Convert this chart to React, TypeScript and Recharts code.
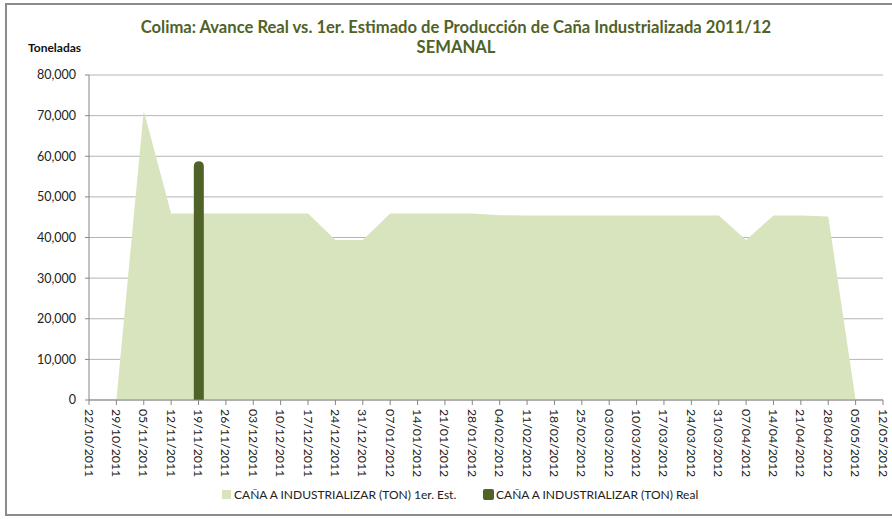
import { Area, Bar, CartesianGrid, ComposedChart, XAxis, YAxis } from "recharts";

const weeks = [
  "22/10/2011", "29/10/2011", "05/11/2011", "12/11/2011", "19/11/2011",
  "26/11/2011", "03/12/2011", "10/12/2011", "17/12/2011", "24/12/2011",
  "31/12/2011", "07/01/2012", "14/01/2012", "21/01/2012", "28/01/2012",
  "04/02/2012", "11/02/2012", "18/02/2012", "25/02/2012", "03/03/2012",
  "10/03/2012", "17/03/2012", "24/03/2012", "31/03/2012", "07/04/2012",
  "14/04/2012", "21/04/2012", "28/04/2012", "05/05/2012", "12/05/2012",
];

const estimated: (number | null)[] = [
  null, 0, 71200, 45900, 45900, 45900, 45900, 45900, 45900, 39400,
  39400, 45900, 45900, 45900, 45900, 45500, 45400, 45400, 45400, 45400,
  45400, 45400, 45400, 45400, 39400, 45400, 45400, 45200, 0, null,
];

const real: (number | null)[] = [
  null, null, null, null, 58800, null, null, null, null, null,
  null, null, null, null, null, null, null, null, null, null,
  null, null, null, null, null, null, null, null, null, null,
];

const yTicks = [0, 10000, 20000, 30000, 40000, 50000, 60000, 70000, 80000];

const EST = "#D7E4BD";
const REAL = "#4F6228";
const FONT = "Lato, 'DejaVu Sans', sans-serif";

const rows = weeks.map((w, i) => ({ i, week: w, est: estimated[i], real: real[i] }));

function DateTick({ x, y, payload }: any) {
  return (
    <text
      x={x}
      y={y}
      transform={`rotate(90, ${x}, ${y})`}
      textAnchor="start"
      dominantBaseline="central"
      fontSize={12.3}
      fontFamily={FONT}
      fill="#222"
    >
      {weeks[payload.value]}
    </text>
  );
}

const legendItem: React.CSSProperties = {
  position: "absolute",
  top: 487,
  display: "flex",
  alignItems: "center",
  fontSize: 12,
  color: "#222",
  whiteSpace: "nowrap",
};

export default function App() {
  return (
    <div style={{ position: "relative", width: 892, height: 519, fontFamily: FONT, background: "#fff" }}>
      <style>{`body{margin:0}`}</style>
      <div
        style={{
          position: "absolute",
          left: 5,
          top: 3,
          width: 892,
          height: 513,
          border: "2px solid #8c8c8c",
          boxSizing: "border-box",
        }}
      />
      <div
        style={{
          position: "absolute",
          left: 56,
          top: 17,
          width: 800,
          textAlign: "center",
          color: REAL,
          fontWeight: 700,
          fontSize: 16.6,
          lineHeight: "20px",
        }}
      >
        Colima: Avance Real vs. 1er. Estimado de Producción de Caña Industrializada 2011/12
        <br />
        SEMANAL
      </div>
      <div style={{ position: "absolute", left: 28, top: 40, fontSize: 12, fontWeight: 700, color: "#111" }}>
        Toneladas
      </div>
      <div style={{ position: "absolute", left: 0, top: 0 }}>
        <ComposedChart
          width={892}
          height={519}
          data={rows}
          margin={{ top: 75, right: 9, bottom: 0, left: 0 }}
        >
          <CartesianGrid vertical={false} stroke="#b5b5b5" />
          <XAxis
            dataKey="i"
            type="number"
            domain={[0, 29]}
            ticks={weeks.map((_, i) => i)}
            interval={0}
            height={119}
            tickSize={5}
            tickMargin={4}
            tick={<DateTick />}
            stroke="#868686"
          />
          <YAxis
            width={89}
            domain={[0, 80000]}
            ticks={yTicks}
            tickSize={4}
            tickMargin={9}
            tickFormatter={(v: number) => v.toLocaleString("en-US")}
            tick={{ fill: "#222", fontSize: 12.5, fontFamily: FONT }}
            stroke="#868686"
          />
          <Area
            dataKey="est"
            type="linear"
            fill={EST}
            fillOpacity={1}
            stroke="none"
            isAnimationActive={false}
            dot={false}
            activeDot={false}
          />
          <Bar
            dataKey="real"
            fill={REAL}
            barSize={10}
            radius={[5, 5, 0, 0]}
            isAnimationActive={false}
          />
        </ComposedChart>
      </div>
      <div style={{ ...legendItem, left: 222 }}>
        <span style={{ width: 9, height: 9, background: EST, marginRight: 3 }} />
        <span>CAÑA A INDUSTRIALIZAR (TON) 1er. Est.</span>
      </div>
      <div style={{ ...legendItem, left: 483 }}>
        <span style={{ width: 11, height: 11, background: REAL, borderRadius: 2, marginRight: 2 }} />
        <span>CAÑA A INDUSTRIALIZAR (TON) Real</span>
      </div>
    </div>
  );
}
